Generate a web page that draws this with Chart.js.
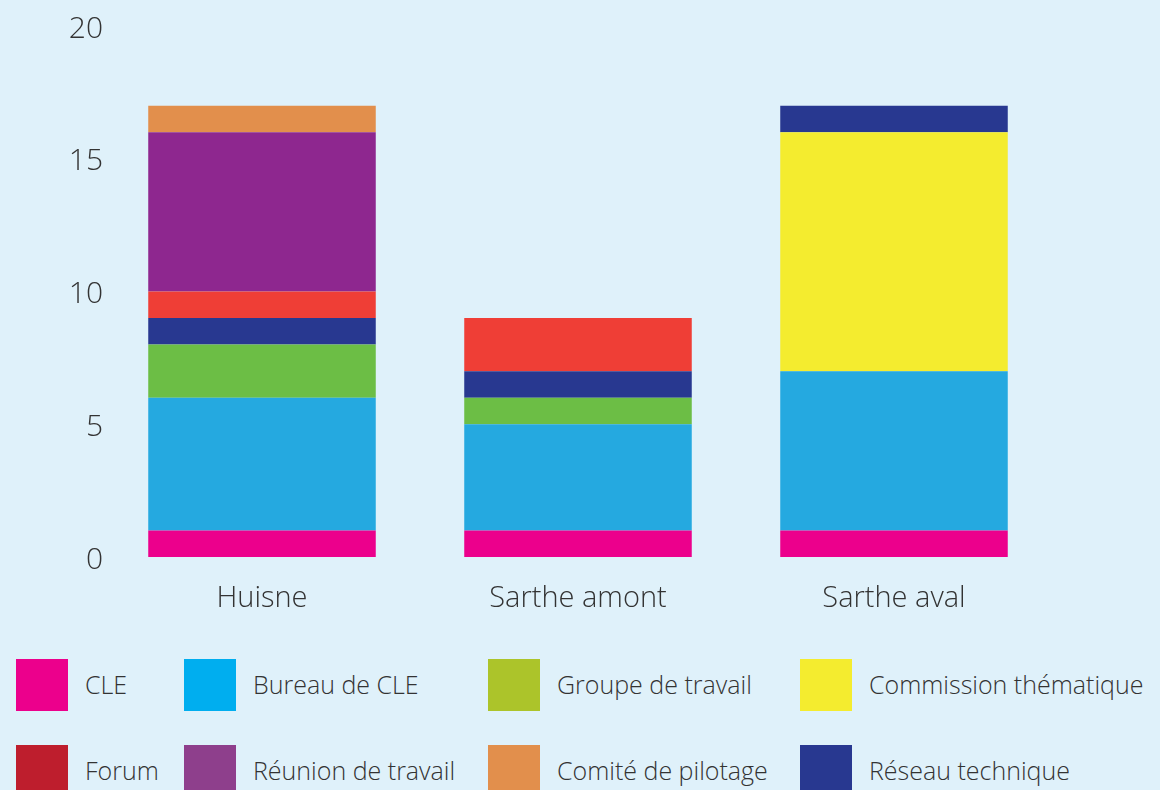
<!DOCTYPE html>
<html>
<head>
<meta charset="utf-8">
<script src="https://cdn.jsdelivr.net/npm/chart.js@4.4.0/dist/chart.umd.min.js"></script>
<style>
  html, body { margin: 0; padding: 0; background: #dff1fa; overflow: hidden; }
  #wrap { position: relative; width: 1160px; height: 790px; }
  #chartBox { position: absolute; left: 0; top: 0; width: 1160px; height: 640px; }
  #legend {
    position: absolute; left: 16px; top: 659px;
    display: grid;
    grid-template-columns: 168px 304px 312px 360px;
    grid-auto-rows: 86px;
    font-family: "Open Sans", "Noto Sans", sans-serif;
    font-weight: 300; font-size: 25px; color: #333;
  }
  .item { display: flex; align-items: flex-start; white-space: nowrap; }
  .box { width: 52px; height: 52px; flex: none; margin-right: 17px; }
  .item span { line-height: 50px; }
</style>
</head>
<body>
<div id="wrap">
  <div id="chartBox"><canvas id="chart"></canvas></div>
  <div id="legend"></div>
</div>
<script>
// données
const categories = ['Huisne', 'Sarthe amont', 'Sarthe aval'];

const cle        = [1, 1, 1];
const bureau     = [5, 4, 6];
const groupe     = [2, 1, 0];
const commission = [0, 0, 9];
const reseau     = [1, 1, 1];
const forum      = [1, 2, 0];
const reunion    = [6, 0, 0];
const comite     = [1, 0, 0];

const yTicks = [0, 5, 10, 15, 20];

// ordre d'empilement (bas -> haut)
const series = [
  { label: 'CLE', data: cle, bar: '#ec008c', key: '#ec008c' },
  { label: 'Bureau de CLE', data: bureau, bar: '#25a9e0', key: '#00aeef' },
  { label: 'Groupe de travail', data: groupe, bar: '#6cbe45', key: '#acc42a' },
  { label: 'Commission thématique', data: commission, bar: '#f4ec2f', key: '#f4ec2f' },
  { label: 'Réseau technique', data: reseau, bar: '#283890', key: '#283890' },
  { label: 'Forum', data: forum, bar: '#ef3e36', key: '#be1e2d' },
  { label: 'Réunion de travail', data: reunion, bar: '#8e278f', key: '#8e3f8c' },
  { label: 'Comité de pilotage', data: comite, bar: '#e28f4c', key: '#e28f4c' }
];

// ordre de la légende
const legendOrder = ['CLE', 'Bureau de CLE', 'Groupe de travail', 'Commission thématique',
  'Forum', 'Réunion de travail', 'Comité de pilotage', 'Réseau technique'];

const font = '"Open Sans", "Noto Sans", sans-serif';

new Chart(document.getElementById('chart'), {
  type: 'bar',
  data: {
    labels: categories,
    datasets: series.map(s => ({
      label: s.label,
      data: s.data,
      backgroundColor: s.bar,
      borderWidth: 0,
      barPercentage: 0.72,
      categoryPercentage: 1
    }))
  },
  options: {
    responsive: true,
    maintainAspectRatio: false,
    animation: false,
    layout: { padding: { top: 26, right: 108, bottom: 0, left: 0 } },
    plugins: {
      legend: { display: false },
      tooltip: { enabled: false }
    },
    scales: {
      x: {
        stacked: true,
        grid: { display: false },
        border: { display: false },
        ticks: { color: '#333', padding: 16, font: { family: font, size: 29, weight: 300 } },
        afterFit: s => { s.height = 83; }
      },
      y: {
        stacked: true,
        min: 0,
        max: 20,
        grid: { display: false },
        border: { display: false },
        afterBuildTicks: s => { s.ticks = yTicks.map(v => ({ value: v })); },
        ticks: { color: '#333', padding: -7, labelOffset: 3, font: { family: font, size: 30, weight: 300 } },
        afterFit: s => { s.width = 104; }
      }
    }
  }
});

const legendEl = document.getElementById('legend');
legendOrder.forEach(name => {
  const s = series.find(d => d.label === name);
  const item = document.createElement('div');
  item.className = 'item';
  item.innerHTML = '<div class="box" style="background:' + s.key + '"></div><span>' + s.label + '</span>';
  legendEl.appendChild(item);
});
</script>
</body>
</html>
